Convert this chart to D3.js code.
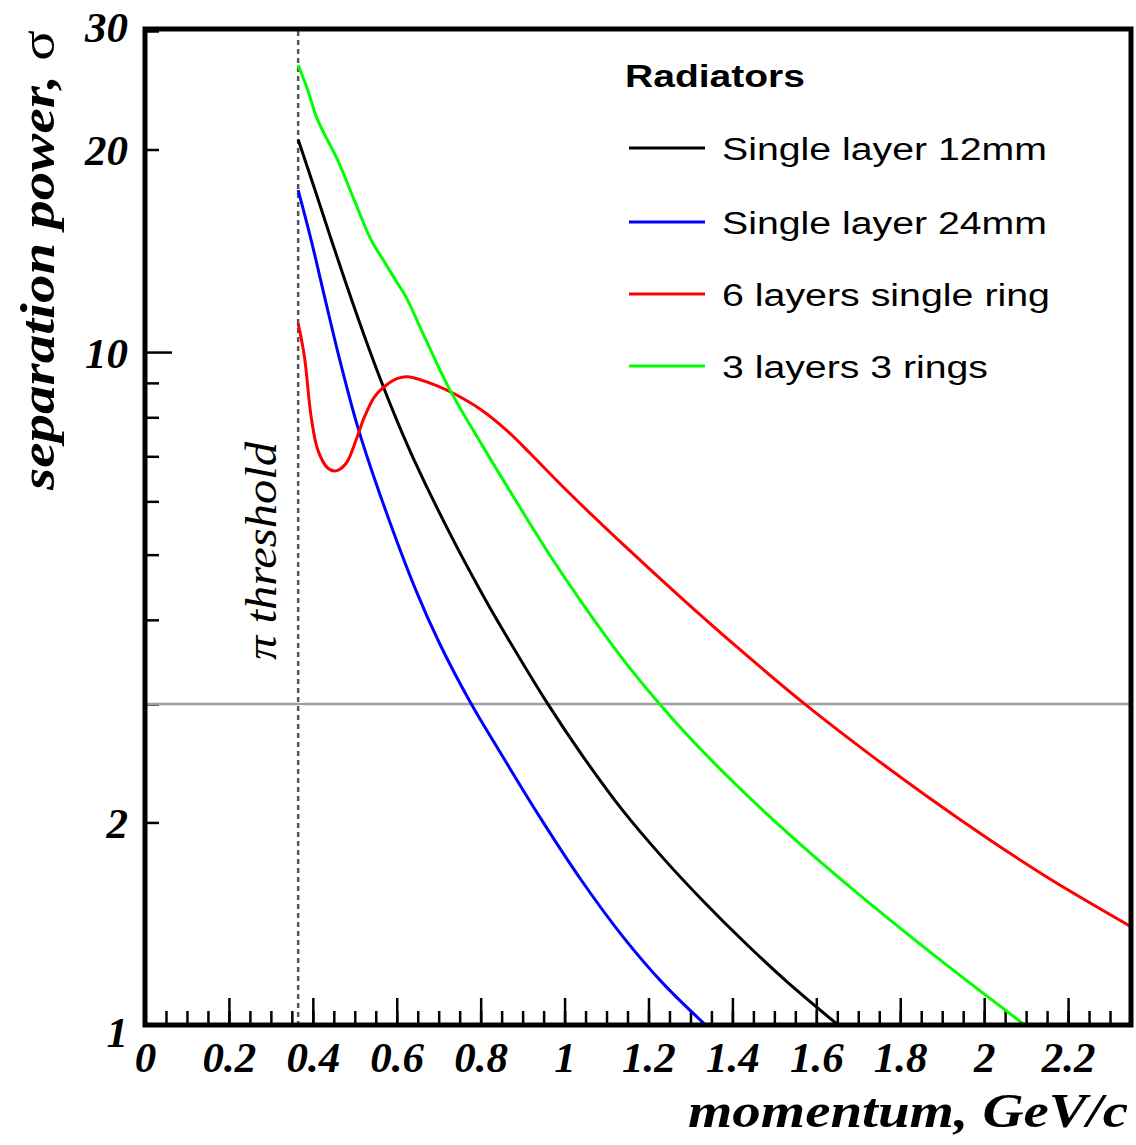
<!DOCTYPE html>
<html>
<head>
<meta charset="utf-8">
<script src="https://cdn.jsdelivr.net/npm/d3@7"></script>
<style>
  body { margin: 0; background: #fff; }
  svg { display: block; }
  .tick-label { font-family: "Liberation Serif", "DejaVu Serif", serif; font-weight: bold; font-style: italic; font-size: 43px; fill: #000; }
  .axis-title { font-family: "Liberation Serif", "DejaVu Serif", serif; font-weight: bold; font-style: italic; font-size: 48px; fill: #000; }
  .legend-text { font-family: "Liberation Sans", Arial, sans-serif; font-size: 31px; fill: #000; }
</style>
</head>
<body>
<svg id="chart" width="1136" height="1145"></svg>
<script>
// Radiator configurations (legend order)
const seriesNames = ["Single layer 12mm", "Single layer 24mm", "6 layers single ring", "3 layers 3 rings"];
const seriesColors = ["#000000", "#0000ff", "#ff0000", "#00ff00"];

// Momentum (GeV/c) and separation power (sigma) for each radiator
const momentum12mm = [0.365, 0.404, 0.444, 0.483, 0.523, 0.563, 0.602, 0.642, 0.729, 0.809, 0.848, 0.960, 1.042, 1.139, 1.236, 1.333, 1.430, 1.527, 1.652];
const sigma12mm    = [20.69, 17.5, 14.69, 12.44, 10.56, 9.05, 7.87, 6.90, 5.34, 4.31, 3.91, 3.0, 2.516, 2.082, 1.767, 1.522, 1.325, 1.164, 1.0];

const momentum24mm = [0.365, 0.396, 0.428, 0.463, 0.507, 0.555, 0.646, 0.703, 0.775, 0.846, 0.943, 1.040, 1.137, 1.234, 1.336];
const sigma24mm    = [17.4, 14.67, 12.08, 9.8, 7.74, 6.27, 4.42, 3.68, 3.02, 2.545, 2.028, 1.641, 1.358, 1.154, 1.0];

const momentum6layers = [0.365, 0.380, 0.396, 0.412, 0.436, 0.455, 0.479, 0.503, 0.523, 0.547, 0.570, 0.602, 0.626, 0.658, 0.698, 0.737, 0.801, 0.864, 0.920, 1.007, 1.142, 1.284, 1.430, 1.575, 1.721, 1.866, 2.012, 2.157, 2.350];
const sigma6layers    = [11.03, 9.84, 8.01, 7.15, 6.72, 6.66, 6.83, 7.40, 8.01, 8.58, 8.88, 9.14, 9.19, 9.09, 8.90, 8.67, 8.21, 7.63, 7.05, 6.21, 5.16, 4.28, 3.56, 2.99, 2.542, 2.182, 1.887, 1.648, 1.40];

const momentum3rings = [0.365, 0.388, 0.408, 0.424, 0.459, 0.499, 0.539, 0.563, 0.602, 0.622, 0.666, 0.727, 0.806, 0.887, 0.965, 1.037, 1.137, 1.225, 1.332, 1.478, 1.623, 1.768, 1.914, 2.097];
const sigma3rings    = [26.7, 24.5, 22.4, 21.3, 19.3, 16.8, 14.67, 13.86, 12.65, 12.08, 10.54, 8.78, 7.23, 5.97, 4.99, 4.28, 3.51, 3.008, 2.54, 2.07, 1.719, 1.445, 1.223, 1.0];

// Axis ticks and reference levels
const xMajorTicks = [0, 0.2, 0.4, 0.6, 0.8, 1, 1.2, 1.4, 1.6, 1.8, 2, 2.2];
const xMinorTicks = d3.range(0, 47).map(i => +(i * 0.05).toFixed(2));
const yMajorTicks = [1, 10];
const yMinorTicks = [2, 3, 4, 5, 6, 7, 8, 9, 20, 30];
const yLabelTicks = [1, 2, 10, 20, 30];
const pionThreshold = 0.365;
const separationLevel = 3;

const svg = d3.select("#chart");
const x = d3.scaleLinear().domain([0, 2.35]).range([145, 1131]);
const y = d3.scaleLog().domain([1, 30]).range([1025, 31]);

svg.append("defs").append("clipPath").attr("id", "plot-clip")
  .append("rect").attr("x", 145).attr("y", 29).attr("width", 986).attr("height", 996);

// x axis ticks (pointing into the frame)
const xMinor = svg.append("g").attr("transform", `translate(0,${y(1)})`)
  .call(d3.axisBottom(x).tickValues(xMinorTicks).tickSize(-14).tickFormat(""));
const xMajor = svg.append("g").attr("transform", `translate(0,${y(1)})`)
  .call(d3.axisBottom(x).tickValues(xMajorTicks).tickSize(-27).tickFormat(d3.format("~g")));
[xMinor, xMajor].forEach(g => {
  g.select(".domain").remove();
  g.selectAll(".tick line").attr("stroke", "#000").attr("stroke-width", 2.5);
});
xMajor.selectAll(".tick text")
  .attr("class", "tick-label").attr("y", 47).attr("dy", null).attr("font-size", null).attr("font-family", null);

// y axis ticks
const yMinor = svg.append("g").attr("transform", `translate(${x(0)},0)`)
  .call(d3.axisLeft(y).tickValues(yMinorTicks).tickSize(-14).tickFormat(""));
const yMajor = svg.append("g").attr("transform", `translate(${x(0)},0)`)
  .call(d3.axisLeft(y).tickValues(yMajorTicks).tickSize(-27).tickFormat(""));
const yLabels = svg.append("g").attr("transform", `translate(${x(0)},0)`)
  .call(d3.axisLeft(y).tickValues(yLabelTicks).tickSize(0).tickPadding(17).tickFormat(d3.format("d")));
[yMinor, yMajor, yLabels].forEach(g => {
  g.select(".domain").remove();
  g.selectAll(".tick line").attr("stroke", "#000").attr("stroke-width", 2.5);
});
yLabels.selectAll(".tick text")
  .attr("class", "tick-label").attr("dy", "0.35em").attr("font-size", null).attr("font-family", null);
yLabels.selectAll(".tick").filter(d => d === 1).select("text").attr("dy", "0.5em");
yLabels.selectAll(".tick").filter(d => d === 30).select("text").attr("dy", "0.25em");

// 3 sigma reference line
svg.append("line")
  .attr("x1", x(0)).attr("x2", x(2.35))
  .attr("y1", y(separationLevel)).attr("y2", y(separationLevel))
  .attr("stroke", "#a0a0a0").attr("stroke-width", 2.5);

// pion Cherenkov threshold
svg.append("line")
  .attr("x1", x(pionThreshold)).attr("x2", x(pionThreshold))
  .attr("y1", y(30)).attr("y2", y(1))
  .attr("stroke", "#555").attr("stroke-width", 2.5).attr("stroke-dasharray", "5,4");

svg.append("text")
  .attr("transform", `translate(276,660) rotate(-90)`)
  .attr("font-family", '"Liberation Serif", "DejaVu Serif", serif')
  .attr("font-style", "italic").attr("font-size", 45)
  .attr("textLength", 218).attr("lengthAdjust", "spacingAndGlyphs")
  .text("\u03c0 threshold");

// curves
const series = [
  { name: seriesNames[0], color: seriesColors[0], p: momentum12mm, s: sigma12mm },
  { name: seriesNames[1], color: seriesColors[1], p: momentum24mm, s: sigma24mm },
  { name: seriesNames[2], color: seriesColors[2], p: momentum6layers, s: sigma6layers },
  { name: seriesNames[3], color: seriesColors[3], p: momentum3rings, s: sigma3rings }
];
const line = d3.line().x(d => x(d[0])).y(d => y(d[1])).curve(d3.curveCatmullRom.alpha(0.5));
svg.append("g").attr("clip-path", "url(#plot-clip)")
  .selectAll("path").data(series).join("path")
  .attr("d", d => line(d.p.map((p, i) => [p, d.s[i]])))
  .attr("fill", "none").attr("stroke", d => d.color).attr("stroke-width", 3);

// frame
svg.append("rect")
  .attr("x", 145).attr("y", 29).attr("width", 986).attr("height", 996)
  .attr("fill", "none").attr("stroke", "#000").attr("stroke-width", 5);

// axis titles
svg.append("text").attr("class", "axis-title")
  .attr("x", 688).attr("y", 1127)
  .attr("textLength", 440).attr("lengthAdjust", "spacingAndGlyphs")
  .text("momentum, GeV/c");
const yTitle = svg.append("text").attr("class", "axis-title")
  .attr("transform", "translate(54,490) rotate(-90)")
  .attr("textLength", 460).attr("lengthAdjust", "spacingAndGlyphs");
yTitle.append("tspan").text("separation power, ");
yTitle.append("tspan").attr("font-style", "normal").attr("font-weight", "normal").text("\u03c3");

// legend
const legend = svg.append("g");
legend.append("text")
  .attr("x", 625).attr("y", 87)
  .attr("font-family", '"Liberation Sans", Arial, sans-serif').attr("font-weight", "bold").attr("font-size", 32)
  .attr("textLength", 180).attr("lengthAdjust", "spacingAndGlyphs")
  .text("Radiators");
const legendY = [148, 222, 294, 366];
const legendWidths = [325, 325, 328, 266];
const rows = legend.selectAll("g.row").data(series).join("g").attr("class", "row")
  .attr("transform", (d, i) => `translate(0,${legendY[i]})`);
rows.append("line").attr("x1", 629).attr("x2", 705).attr("y1", 0).attr("y2", 0)
  .attr("stroke", d => d.color).attr("stroke-width", 3);
rows.append("text").attr("class", "legend-text")
  .attr("x", 722).attr("y", 12)
  .attr("textLength", (d, i) => legendWidths[i]).attr("lengthAdjust", "spacingAndGlyphs")
  .text(d => d.name);
</script>
</body>
</html>
